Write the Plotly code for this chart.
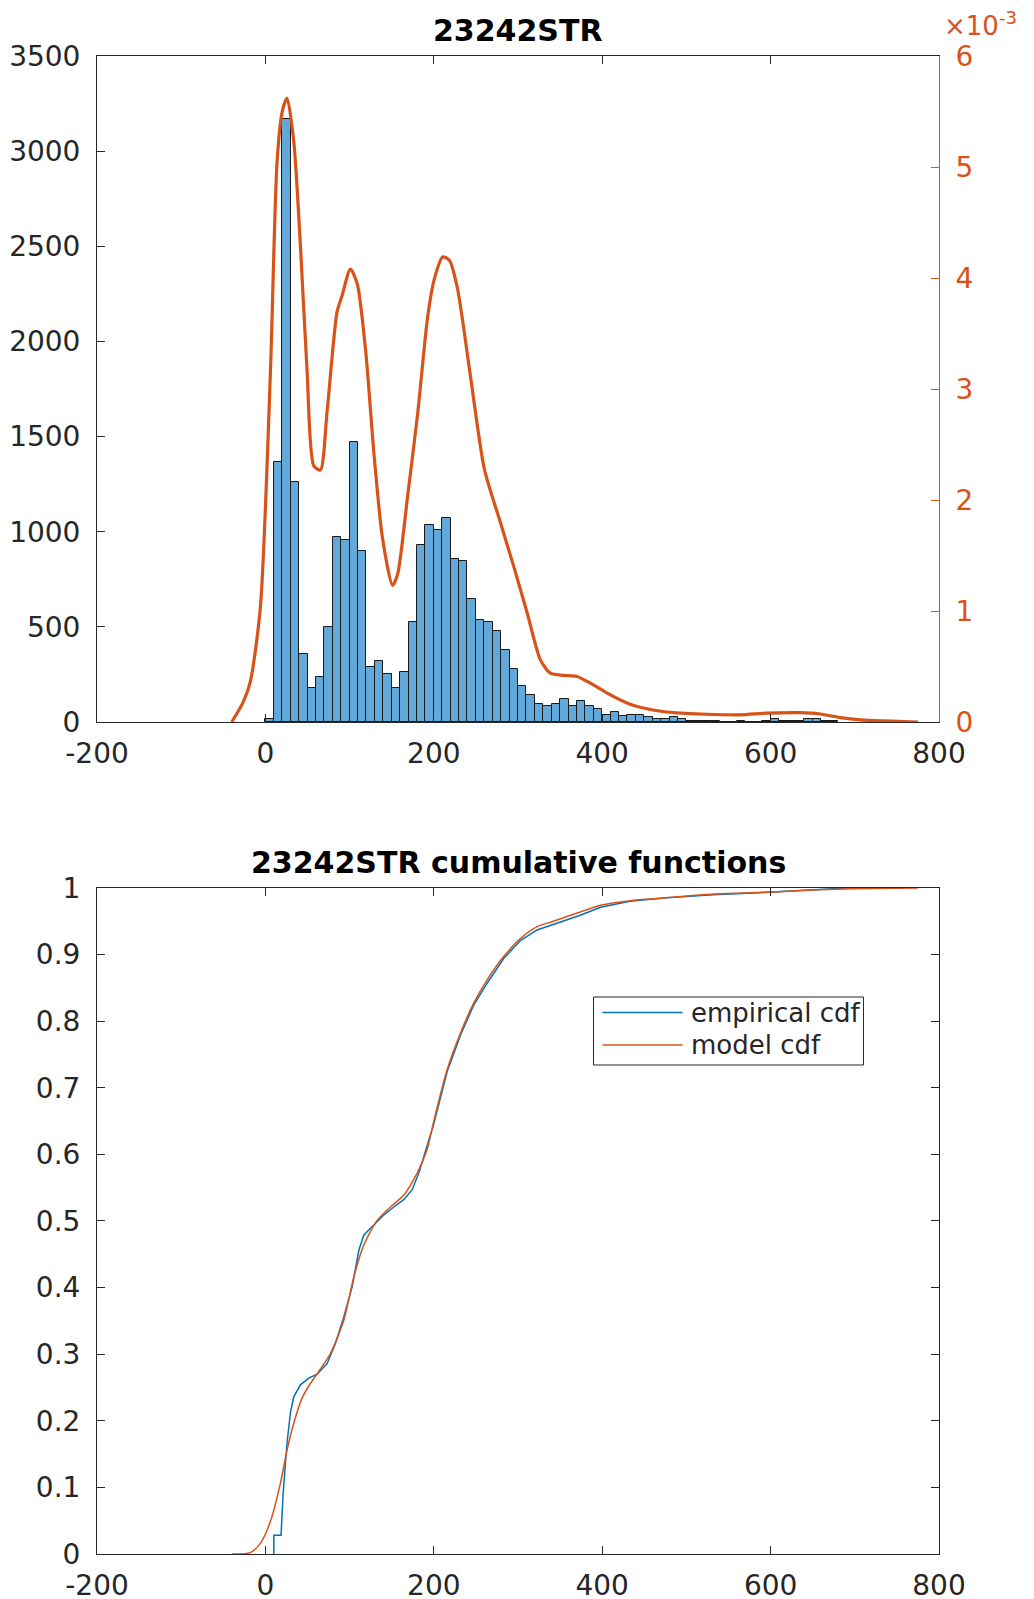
import plotly.graph_objects as go

# ---------------- data ----------------
BIN_W = 10
bin_left = list(range(0, 680, BIN_W))
counts = [15, 1365, 3170, 1260, 360, 181, 236, 500, 972, 954,
          1474, 900, 288, 323, 251, 181, 262, 524, 928, 1033,
          1011, 1070, 856, 845, 644, 535, 528, 480, 380, 278,
          191, 144, 95, 86, 95, 123, 86, 109, 86, 70,
          38, 51, 33, 38, 38, 28, 16, 18, 25, 16,
          7, 5, 4, 4, 0, 0, 4, 0, 0, 4,
          14, 5, 5, 5, 15, 14, 5, 3]

pdf_x = [-40, -27, -18, -6, 6, 13.8, 20, 25.7, 33.7, 41.6,
         49.5, 57.4, 65.3, 73.2, 85, 91, 101, 109, 119, 129,
         139, 151, 157, 169, 181, 192.7, 200.6, 210.5, 218.5, 228,
         244, 260, 279, 295, 311, 326.6, 338.5, 354, 370, 386,
         406, 430, 453, 485, 524, 564, 596, 635, 659, 683,
         707, 734, 775]
pdf_e3 = [0, 0.17, 0.36, 1.03, 3.16, 5.04, 5.5, 5.62, 5.23, 4.29,
          3.16, 2.31, 2.27, 2.79, 3.69, 3.84, 4.08, 3.95, 3.35, 2.41,
          1.66, 1.23, 1.33, 2.04, 2.79, 3.65, 3.99, 4.19, 4.16, 3.91,
          3.09, 2.28, 1.80, 1.40, 0.98, 0.56, 0.44, 0.42, 0.41, 0.35,
          0.26, 0.17, 0.12, 0.084, 0.07, 0.065, 0.08, 0.084, 0.072, 0.04,
          0.02, 0.01, 0]

emp_x = [10, 10, 18.6, 21, 25.7, 29.7, 33.6, 41.6, 51.5, 61.4,
         73.3, 83.2, 93.1, 103, 111, 116.9, 128.8, 140.6, 152.5, 164.4,
         174.3, 182.2, 188.2, 200, 215.8, 231.6, 247.4, 263.3, 283, 302.8,
         322.7, 342, 374, 398, 433, 473, 532, 603, 650, 690]
emp_y = [0, 0.028, 0.028, 0.09, 0.167, 0.212, 0.236, 0.254, 0.264, 0.270,
         0.286, 0.316, 0.356, 0.401, 0.456, 0.479, 0.494, 0.509, 0.521, 0.532,
         0.547, 0.572, 0.597, 0.646, 0.724, 0.779, 0.824, 0.857, 0.894, 0.921,
         0.937, 0.945, 0.959, 0.971, 0.980, 0.985, 0.990, 0.994, 0.997, 1.0]

model_x = [-40, -18, -6, 6, 17.8, 25.7, 33.6, 43.5, 53.4, 63.3,
           77.2, 93.1, 105, 116.9, 132.7, 148.6, 164.4, 180.2, 192, 200,
           215.8, 231.6, 247.4, 263.3, 283, 302.8, 322.7, 342, 374, 398,
           433, 473, 532, 603, 650, 700, 775]
model_y = [0, 0.002, 0.016, 0.049, 0.106, 0.156, 0.196, 0.234, 0.256, 0.274,
           0.301, 0.351, 0.416, 0.464, 0.501, 0.521, 0.539, 0.572, 0.607, 0.650,
           0.727, 0.782, 0.827, 0.862, 0.897, 0.924, 0.942, 0.950, 0.964, 0.974,
           0.981, 0.985, 0.991, 0.994, 0.997, 0.999, 1.0]

x_ticks = [-200, 0, 200, 400, 600, 800]
x_tick_text = ["-200", "0", "200", "400", "600", "800"]
title_top = "23242STR"
title_bottom = "23242STR cumulative functions"
legend_labels = ["empirical cdf", "model cdf"]

# ---------------- styles ----------------
BLUE = "#0072BD"
ORANGE = "#D95319"
AX = "#262626"
FONT = "DejaVu Sans"
TICK_SIZE = 28

fig = go.Figure()
fig.add_trace(go.Bar(
    x=[b + BIN_W / 2 for b in bin_left], y=counts, width=BIN_W,
    marker=dict(color="#62A8D9", line=dict(color="#1a1a1a", width=1)),
    xaxis="x", yaxis="y", showlegend=False))
fig.add_trace(go.Scatter(
    x=pdf_x, y=pdf_e3, mode="lines",
    line=dict(color=ORANGE, width=3.2, shape="spline", smoothing=0.7),
    xaxis="x", yaxis="y2", showlegend=False))
fig.add_trace(go.Scatter(
    x=emp_x, y=emp_y, mode="lines", line=dict(color=BLUE, width=1.5),
    xaxis="x2", yaxis="y3", showlegend=False))
fig.add_trace(go.Scatter(
    x=model_x, y=model_y, mode="lines",
    line=dict(color=ORANGE, width=1.5, shape="spline", smoothing=0.7),
    xaxis="x2", yaxis="y3", showlegend=False))

common_x = dict(range=[-200, 800], tickvals=x_ticks, ticktext=x_tick_text,
                ticks="inside", ticklen=8,
                tickcolor=AX, showline=True, linecolor=AX, linewidth=1,
                mirror="ticks", showgrid=False, zeroline=False,
                ticklabelstandoff=6,
                tickfont=dict(family=FONT, size=TICK_SIZE, color=AX))

fig.update_layout(
    width=1034, height=1599,
    margin=dict(l=97, r=95, t=56, b=45, autoexpand=False),
    plot_bgcolor="white", paper_bgcolor="white",
    bargap=0,
    font=dict(family=FONT, size=TICK_SIZE, color=AX),
    xaxis=dict(domain=[0, 1], anchor="y", **common_x),
    yaxis=dict(domain=[0.5554, 1], range=[0, 3500], dtick=500, ticks="inside",
               ticklen=8, tickcolor=AX, showline=True, linecolor=AX,
               showgrid=False, zeroline=False, ticklabelstandoff=10,
               tickfont=dict(family=FONT, size=TICK_SIZE, color=AX)),
    yaxis2=dict(overlaying="y", side="right", anchor="x", range=[0, 6], dtick=1,
                ticks="inside", ticklen=8, tickcolor=ORANGE, showline=True,
                linecolor=ORANGE, showgrid=False, zeroline=False,
                ticklabelstandoff=10,
                tickfont=dict(family=FONT, size=TICK_SIZE, color=ORANGE)),
    xaxis2=dict(domain=[0, 1], anchor="y3", **common_x),
    yaxis3=dict(domain=[0, 0.4446], anchor="x2", range=[0, 1], dtick=0.1,
                ticks="inside", ticklen=8, tickcolor=AX, showline=True,
                linecolor=AX, mirror="ticks", showgrid=False, zeroline=False,
                ticklabelstandoff=10,
                tickfont=dict(family=FONT, size=TICK_SIZE, color=AX)),
)

annotations = [
    dict(text="<b>%s</b>" % title_top, xref="paper", yref="paper", x=0.5, y=1.0167,
         xanchor="center", yanchor="middle", showarrow=False,
         font=dict(family=FONT, size=30, color="black")),
    dict(text="<b>%s</b>" % title_bottom, xref="paper", yref="paper", x=0.5, y=0.4613,
         xanchor="center", yanchor="middle", showarrow=False,
         font=dict(family=FONT, size=30, color="black")),
    dict(text="×10<sup>-3</sup>", xref="paper", yref="paper", x=1.003, y=1.0215,
         xanchor="left", yanchor="middle", showarrow=False,
         font=dict(family=FONT, size=26, color=ORANGE)),
]
leg_y = [0.8129, 0.7643]
leg_col = [BLUE, ORANGE]
shapes = [dict(type="rect", xref="x2 domain", yref="y3 domain",
               x0=0.5897, x1=0.9103, y0=0.7342, y1=0.8363,
               line=dict(color=AX, width=1), fillcolor="white", layer="above")]
for lbl, yy, col in zip(legend_labels, leg_y, leg_col):
    shapes.append(dict(type="line", xref="x2 domain", yref="y3 domain",
                       x0=0.6003, x1=0.6954, y0=yy, y1=yy,
                       line=dict(color=col, width=1.5), layer="above"))
    annotations.append(dict(text=lbl, xref="x2 domain", yref="y3 domain",
                            x=0.703, y=yy, xanchor="left", yanchor="middle",
                            showarrow=False,
                            font=dict(family=FONT, size=26, color=AX)))
fig.update_layout(annotations=annotations, shapes=shapes)

fig.write_html("out.html")
